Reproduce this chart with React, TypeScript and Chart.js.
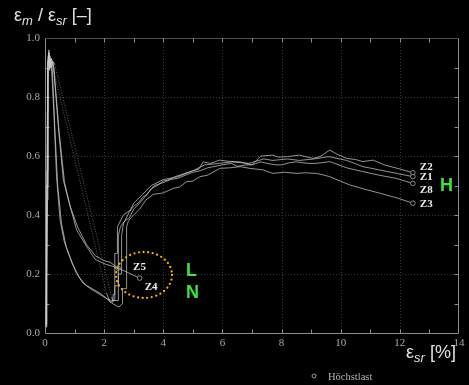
import React, { useEffect, useRef } from "react";
import { Chart, registerables } from "chart.js";

Chart.register(...registerables);

const X_TICKS = [0, 2, 4, 6, 8, 10, 12, 14];
const Y_TICKS = [0, 0.2, 0.4, 0.6, 0.8, 1.0];
const X_MINOR = [1, 2, 3, 4, 5, 6, 7, 8, 9, 10, 11, 12, 13];
const Y_MINOR = [0.1, 0.2, 0.3, 0.4, 0.5, 0.6, 0.7, 0.8, 0.9];

const SERIES_NAMES = ["Z1", "Z2", "Z3", "Z8", "Z4", "Z5"];

const Z1_X = [0.04, 0.06, 0.08, 0.1, 0.12, 0.15, 0.18, 0.2, 2.08, 2.2, 2.3, 2.3, 2.36, 2.36, 2.45, 2.45, 2.55, 2.65, 2.8, 2.9, 3.0, 3.3, 3.6, 4.0, 4.5, 5.0, 5.4, 5.9, 6.3, 6.9, 7.4, 7.7, 8.2, 8.6, 9.1, 9.6, 10.2, 10.75, 11.3, 12.44];
const Z1_Y = [0.02, 0.3, 0.75, 0.92, 0.95, 0.9, 0.93, 0.93, 0.135, 0.105, 0.105, 0.13, 0.13, 0.27, 0.27, 0.36, 0.38, 0.4, 0.41, 0.42, 0.44, 0.47, 0.5, 0.52, 0.53, 0.55, 0.57, 0.575, 0.58, 0.575, 0.59, 0.585, 0.59, 0.585, 0.59, 0.598, 0.585, 0.564, 0.553, 0.53];

const Z2_X = [0.04, 0.06, 0.09, 0.11, 0.14, 0.17, 0.22, 0.28, 0.33, 2.25, 2.3, 2.48, 2.48, 2.59, 2.59, 2.65, 2.75, 2.85, 3.0, 3.15, 3.3, 3.45, 3.6, 3.8, 4.0, 4.2, 4.4, 4.7, 5.0, 5.2, 5.35, 5.6, 5.9, 6.2, 6.6, 7.0, 7.3, 7.7, 7.9, 8.2, 8.6, 9.06, 9.3, 9.63, 9.9, 10.2, 10.5, 10.75, 11.1, 11.5, 12.0, 12.44];
const Z2_Y = [0.03, 0.4, 0.85, 0.94, 0.91, 0.94, 0.9, 0.92, 0.91, 0.123, 0.11, 0.11, 0.2, 0.2, 0.33, 0.37, 0.39, 0.41, 0.43, 0.44, 0.46, 0.47, 0.49, 0.5, 0.515, 0.52, 0.53, 0.54, 0.55, 0.555, 0.58, 0.575, 0.586, 0.582, 0.58, 0.57, 0.6, 0.603, 0.596, 0.598, 0.603, 0.592, 0.598, 0.62, 0.605, 0.592, 0.588, 0.581, 0.586, 0.569, 0.556, 0.543];

const Z3_X = [0.04, 0.07, 0.09, 0.12, 0.16, 0.2, 0.23, 0.3, 0.39, 0.51, 0.65, 0.84, 1.05, 1.29, 1.6, 1.86, 2.05, 2.2, 2.31, 2.5, 2.62, 2.62, 2.76, 2.76, 2.82, 2.9, 3.0, 3.2, 3.4, 3.66, 4.0, 4.33, 4.55, 4.79, 5.0, 5.24, 5.5, 5.91, 6.25, 6.6, 6.93, 7.38, 7.5, 7.71, 8.1, 8.5, 8.8, 9.18, 9.4, 9.63, 10.3, 10.9, 11.32, 11.9, 12.44];
const Z3_Y = [0.02, 0.5, 0.9, 0.93, 0.89, 0.92, 0.88, 0.75, 0.53, 0.383, 0.31, 0.259, 0.205, 0.168, 0.15, 0.135, 0.12, 0.106, 0.098, 0.088, 0.1, 0.15, 0.15, 0.36, 0.38, 0.39, 0.4, 0.42, 0.45, 0.47, 0.475, 0.49, 0.495, 0.513, 0.515, 0.53, 0.535, 0.558, 0.56, 0.564, 0.558, 0.553, 0.548, 0.541, 0.545, 0.541, 0.543, 0.541, 0.536, 0.53, 0.502, 0.485, 0.474, 0.458, 0.44];

const Z8_X = [0.05, 0.07, 0.1, 0.13, 0.17, 0.21, 0.25, 0.33, 0.43, 0.56, 0.72, 0.92, 1.15, 1.4, 1.7, 1.95, 2.12, 2.25, 2.36, 2.36, 2.48, 2.48, 2.55, 2.7, 2.85, 3.0, 3.2, 3.45, 3.7, 4.0, 4.25, 4.5, 4.75, 5.0, 5.25, 5.5, 5.75, 6.0, 6.3, 6.5, 6.8, 7.0, 7.3, 7.5, 7.8, 8.0, 8.3, 8.5, 8.9, 9.18, 9.63, 10.2, 10.75, 11.3, 11.88, 12.44];
const Z8_Y = [0.03, 0.45, 0.9, 0.96, 0.91, 0.93, 0.89, 0.7, 0.5, 0.37, 0.29, 0.235, 0.19, 0.16, 0.14, 0.125, 0.115, 0.11, 0.11, 0.16, 0.16, 0.33, 0.36, 0.38, 0.39, 0.42, 0.44, 0.47, 0.5, 0.51, 0.52, 0.525, 0.535, 0.545, 0.55, 0.56, 0.565, 0.57, 0.575, 0.565, 0.57, 0.57, 0.58, 0.575, 0.57, 0.57, 0.578, 0.58, 0.575, 0.575, 0.581, 0.56, 0.547, 0.535, 0.524, 0.507];

const Z4_X = [0.04, 0.07, 0.1, 0.13, 0.17, 0.22, 0.28, 0.45, 0.62, 0.79, 1.07, 1.41, 1.69, 2.0, 2.47, 2.8, 3.2];
const Z4_Y = [0.02, 0.5, 0.91, 0.94, 0.9, 0.93, 0.914, 0.7, 0.519, 0.451, 0.349, 0.293, 0.25, 0.235, 0.22, 0.205, 0.186];

const Z5_X = [0.04, 0.07, 0.1, 0.14, 0.18, 0.24, 0.3, 0.48, 0.66, 0.85, 1.1, 1.4, 1.7, 2.0, 2.2, 2.47];
const Z5_Y = [0.03, 0.55, 0.92, 0.95, 0.9, 0.92, 0.9, 0.68, 0.51, 0.43, 0.36, 0.3, 0.262, 0.245, 0.24, 0.22];

const SERIES_X = [Z1_X, Z2_X, Z3_X, Z8_X, Z4_X, Z5_X];
const SERIES_Y = [Z1_Y, Z2_Y, Z3_Y, Z8_Y, Z4_Y, Z5_Y];

const LABEL_OFFSETS: Record<string, [number, number]> = {
  Z2: [7, -6],
  Z1: [7, 1],
  Z8: [7, 7],
  Z3: [7, 1],
  Z5: [15, -1],
  Z4: [5, 9],
};

const SERIF = '"Liberation Serif", "Times New Roman", serif';
const SANS = '"Liberation Sans", Arial, sans-serif';

export default function App() {
  const ref = useRef<HTMLCanvasElement>(null);

  useEffect(() => {
    const canvas = ref.current;
    if (!canvas) return;

    const framePlugin = {
      id: "frame",
      beforeDatasetsDraw(chart: any) {
        const { ctx, chartArea: a, scales } = chart;
        const xs = scales.x;
        const ys = scales.y;
        const line = (x1: number, y1: number, x2: number, y2: number) => {
          ctx.beginPath();
          ctx.moveTo(x1, y1);
          ctx.lineTo(x2, y2);
          ctx.stroke();
        };
        ctx.save();
        ctx.lineWidth = 1;
        ctx.strokeStyle = "#383838";
        ctx.setLineDash([1, 2]);
        for (const v of X_TICKS) {
          if (v <= 0 || v >= 14) continue;
          const px = Math.round(xs.getPixelForValue(v)) + 0.5;
          line(px, a.top, px, a.bottom);
        }
        for (const v of Y_TICKS) {
          if (v <= 0) continue;
          const py = Math.round(ys.getPixelForValue(v)) + 0.5;
          line(a.left, py, a.right, py);
        }
        ctx.setLineDash([]);
        ctx.strokeStyle = "#8c8c8c";
        const L = Math.round(a.left) + 0.5;
        const R = Math.round(a.right) - 0.5;
        const B = Math.round(a.bottom) + 0.5;
        const T = Math.round(a.top) + 0.5;
        line(L, T, L, B);
        line(L, B, R, B);
        line(R, T, R, B);
        ctx.strokeStyle = "#505050";
        line(L, T, R, T);
        ctx.strokeStyle = "#8c8c8c";
        for (const v of X_MINOR) {
          const px = Math.round(xs.getPixelForValue(v)) + 0.5;
          line(px, B, px, B - 4);
          line(px, T, px, T + 4);
        }
        for (const v of Y_MINOR) {
          const py = Math.round(ys.getPixelForValue(v)) + 0.5;
          line(L, py, L + 4, py);
          line(R, py, R - 4, py);
        }
        ctx.restore();
      },
    };

    const notesPlugin = {
      id: "notes",
      afterDatasetsDraw(chart: any) {
        const { ctx } = chart;
        ctx.save();
        ctx.font = `bold 11px ${SERIF}`;
        ctx.fillStyle = "#eeeeee";
        ctx.textBaseline = "middle";
        ctx.textAlign = "left";
        SERIES_NAMES.forEach((name, i) => {
          const meta = chart.getDatasetMeta(i);
          const pt = meta.data[meta.data.length - 1];
          const off = LABEL_OFFSETS[name];
          ctx.fillText(name, pt.x + off[0], pt.y + off[1]);
        });
        ctx.strokeStyle = "#f4b400";
        ctx.lineWidth = 2.3;
        ctx.lineCap = "round";
        ctx.setLineDash([0, 4.6]);
        ctx.beginPath();
        ctx.ellipse(144, 275, 28, 23, 0, 0, Math.PI * 2);
        ctx.stroke();
        ctx.setLineDash([]);
        ctx.fillStyle = "#3fe23f";
        ctx.font = `bold 18px ${SANS}`;
        ctx.textBaseline = "alphabetic";
        ctx.fillText("H", 440, 191);
        ctx.fillText("L", 186, 276);
        ctx.fillText("N", 186, 298);
        ctx.strokeStyle = "#999";
        ctx.lineWidth = 1;
        ctx.beginPath();
        ctx.arc(314, 376, 2, 0, Math.PI * 2);
        ctx.stroke();
        ctx.fillStyle = "#b5b5b5";
        ctx.font = `10.5px ${SERIF}`;
        ctx.fillText("Höchstlast", 328, 380);
        ctx.restore();
      },
    };

    const isDotted = (c: any) =>
      c.p1.parsed.x - c.p0.parsed.x > 1 && c.p0.parsed.y - c.p1.parsed.y > 0.5;

    const datasets = SERIES_NAMES.map((name, i) => {
      const xsArr = SERIES_X[i];
      const ysArr = SERIES_Y[i];
      const last = xsArr.length - 1;
      return {
        label: name,
        data: xsArr.map((x, j) => ({ x, y: ysArr[j] })),
        borderColor: "rgba(205,205,205,0.8)",
        borderWidth: 0.9,
        pointRadius: (c: any) => (c.dataIndex === last ? 2.3 : 0),
        pointBorderColor: "#8a8a8a",
        pointBackgroundColor: "#000",
        pointBorderWidth: 1,
        tension: 0,
        segment: {
          borderDash: (c: any) => (isDotted(c) ? [1, 1.6] : undefined),
          borderColor: (c: any) => (isDotted(c) ? "rgba(190,190,190,0.55)" : undefined),
        },
      };
    });

    const chart = new Chart(canvas, {
      type: "line",
      data: { datasets },
      options: {
        animation: false,
        responsive: false,
        maintainAspectRatio: false,
        layout: { padding: { left: 0, right: 10, top: 38, bottom: 0 } },
        plugins: { legend: { display: false }, tooltip: { enabled: false } },
        scales: {
          x: {
            type: "linear",
            min: 0,
            max: 14,
            afterBuildTicks: (s: any) => {
              s.ticks = X_TICKS.map((v) => ({ value: v }));
            },
            afterFit: (s: any) => {
              s.height = 52;
            },
            grid: { display: false, drawTicks: false },
            border: { display: false },
            ticks: {
              color: "#a8a8a8",
              font: { family: SERIF, size: 11 },
              padding: 4,
              maxRotation: 0,
              autoSkip: false,
              callback: (v: any) => String(v),
            },
          },
          y: {
            type: "linear",
            min: 0,
            max: 1,
            afterBuildTicks: (s: any) => {
              s.ticks = Y_TICKS.map((v) => ({ value: v }));
            },
            afterFit: (s: any) => {
              s.width = 45;
            },
            grid: { display: false, drawTicks: false },
            border: { display: false },
            ticks: {
              color: "#a8a8a8",
              font: { family: SERIF, size: 11 },
              padding: 5,
              autoSkip: false,
              callback: (v: any) => Number(v).toFixed(1),
            },
          },
        },
      },
      plugins: [framePlugin, notesPlugin],
    } as any);

    return () => chart.destroy();
  }, []);

  const titleStyle: React.CSSProperties = {
    position: "absolute",
    fontFamily: SANS,
    fontSize: 18,
    lineHeight: "18px",
    color: "#e0e0e0",
    whiteSpace: "nowrap",
  };
  const subStyle: React.CSSProperties = {
    fontSize: 13,
    fontStyle: "italic",
    verticalAlign: "-4px",
    lineHeight: "0",
  };

  return (
    <div
      style={{
        position: "fixed",
        left: 0,
        top: 0,
        width: 469,
        height: 385,
        background: "#000",
        overflow: "hidden",
      }}
    >
      <canvas ref={ref} width={469} height={385} style={{ display: "block", position: "absolute", left: 0, top: 0 }} />
      <div style={{ ...titleStyle, left: 14, top: 6 }}>
        ε<span style={subStyle}>m</span> / ε<span style={subStyle}>sr</span> [–]
      </div>
      <div style={{ ...titleStyle, left: 406, top: 343 }}>
        ε<span style={subStyle}>sr</span> [%]
      </div>
    </div>
  );
}
